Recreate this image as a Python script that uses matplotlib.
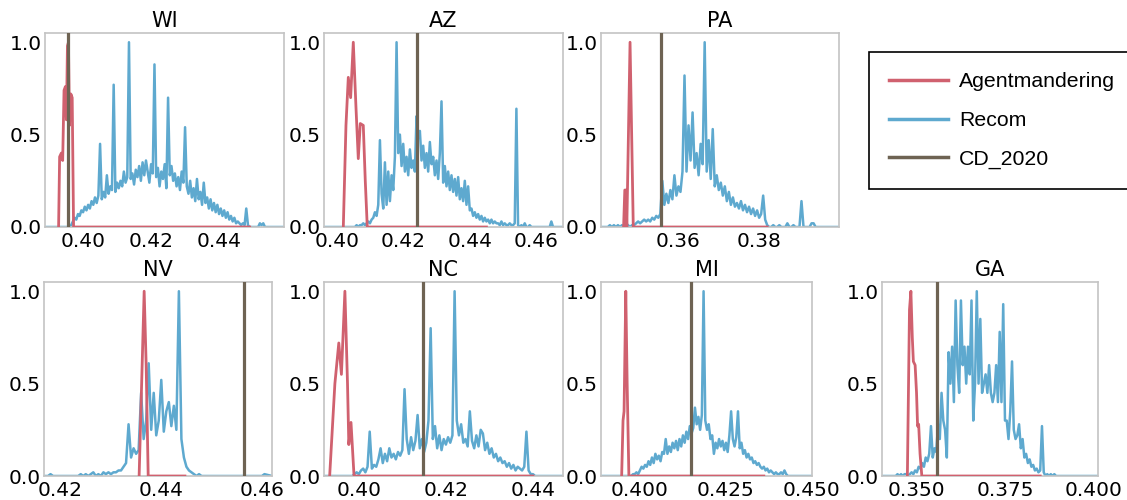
import numpy as np
import matplotlib
matplotlib.use("Agg")
import matplotlib.pyplot as plt
from matplotlib.lines import Line2D

# ---------------- data ----------------
states = ["WI", "AZ", "PA", "NV", "NC", "MI", "GA"]
cd_2020 = [0.3957, 0.4241, 0.3556, 0.4565, 0.4148, 0.4148, 0.3558]
x_lo = [0.3888, 0.3962, 0.3408, 0.4167, 0.3920, 0.3887, 0.3401]
x_hi = [0.4591, 0.4680, 0.3998, 0.4620, 0.4469, 0.4500, 0.4014]
recom_start = [0.3960, 0.4050, 0.3420, 0.4170, 0.3985, 0.3975, 0.3440]
bin_width = 0.0005

xtick_wi = ["0.40", "0.42", "0.44"]
xtick_az = ["0.40", "0.42", "0.44", "0.46"]
xtick_pa = ["0.36", "0.38"]
xtick_nv = ["0.42", "0.44", "0.46"]
xtick_nc = ["0.40", "0.42", "0.44"]
xtick_mi = ["0.400", "0.425", "0.450"]
xtick_ga = ["0.350", "0.375", "0.400"]
ytick_labels = ["0.0", "0.5", "1.0"]

recom_wi = [0.00, 0.01, 0.03, 0.05, 0.04, 0.07, 0.06, 0.09, 0.08, 0.11,
            0.09, 0.12, 0.10, 0.14, 0.12, 0.16, 0.13, 0.17, 0.45, 0.15,
            0.19, 0.16, 0.28, 0.18, 0.22, 0.20, 0.77, 0.19, 0.24, 0.21,
            0.25, 0.22, 0.30, 0.24, 0.27, 1.00, 0.26, 0.29, 0.23, 0.31,
            0.27, 0.33, 0.25, 0.35, 0.28, 0.36, 0.30, 0.24, 0.34, 0.29,
            0.88, 0.27, 0.32, 0.22, 0.30, 0.26, 0.34, 0.21, 0.70, 0.28,
            0.33, 0.25, 0.29, 0.22, 0.27, 0.20, 0.30, 0.24, 0.54, 0.22,
            0.18, 0.25, 0.16, 0.21, 0.14, 0.26, 0.15, 0.19, 0.12, 0.24,
            0.13, 0.16, 0.10, 0.15, 0.09, 0.13, 0.08, 0.12, 0.07, 0.10,
            0.06, 0.09, 0.05, 0.08, 0.04, 0.06, 0.03, 0.05, 0.02, 0.03,
            0.02, 0.01, 0.02, 0.01, 0.10, 0.01, 0.00, 0.00, 0.00, 0.00,
            0.00, 0.00, 0.02, 0.01, 0.02, 0.00, 0.00]
recom_az = [0.00, 0.00, 0.01, 0.00, 0.01, 0.01, 0.02, 0.01, 0.02, 0.03,
            0.02, 0.04, 0.05, 0.08, 0.06, 0.12, 0.47, 0.18, 0.10, 0.35,
            0.12, 0.30, 0.14, 0.28, 0.20, 0.38, 1.00, 0.40, 0.50, 0.33,
            0.45, 0.30, 0.38, 0.28, 0.42, 0.32, 0.36, 0.30, 0.60, 0.48,
            0.52, 0.36, 0.44, 0.32, 0.40, 0.30, 0.46, 0.34, 0.38, 0.28,
            0.36, 0.26, 0.40, 0.68, 0.24, 0.33, 0.22, 0.30, 0.20, 0.28,
            0.19, 0.26, 0.17, 0.27, 0.15, 0.21, 0.14, 0.25, 0.12, 0.22,
            0.09, 0.10, 0.06, 0.08, 0.05, 0.07, 0.04, 0.06, 0.03, 0.05,
            0.03, 0.04, 0.02, 0.04, 0.02, 0.03, 0.02, 0.02, 0.01, 0.03,
            0.01, 0.02, 0.01, 0.01, 0.02, 0.01, 0.01, 0.02, 0.64, 0.01,
            0.00, 0.01, 0.00, 0.02, 0.00, 0.00, 0.01, 0.00, 0.00, 0.00,
            0.00, 0.00, 0.00, 0.00, 0.00, 0.00, 0.00, 0.00, 0.00, 0.03,
            0.00]
recom_pa = [0.00, 0.00, 0.01, 0.00, 0.01, 0.00, 0.01, 0.00, 0.01, 0.00,
            0.02, 0.01, 0.00, 0.01, 0.01, 0.02, 0.03, 0.02, 0.03, 0.04,
            0.03, 0.04, 0.03, 0.05, 0.04, 0.06, 0.05, 0.07, 0.25, 0.12,
            0.18, 0.13, 0.20, 0.15, 0.28, 0.17, 0.22, 0.19, 0.30, 0.82,
            0.30, 0.55, 0.36, 0.62, 0.32, 0.40, 0.28, 0.45, 0.34, 1.00,
            0.30, 0.47, 0.26, 0.53, 0.22, 0.28, 0.20, 0.24, 0.17, 0.22,
            0.14, 0.19, 0.12, 0.16, 0.11, 0.13, 0.10, 0.14, 0.09, 0.12,
            0.08, 0.11, 0.07, 0.10, 0.06, 0.09, 0.05, 0.07, 0.17, 0.04,
            0.01, 0.00, 0.00, 0.01, 0.00, 0.00, 0.01, 0.00, 0.00, 0.00,
            0.02, 0.00, 0.00, 0.01, 0.00, 0.00, 0.00, 0.14, 0.00, 0.00,
            0.00, 0.00, 0.02, 0.02, 0.00]
recom_nv = [0.00, 0.00, 0.01, 0.00, 0.00, 0.00, 0.00, 0.00, 0.00, 0.00,
            0.00, 0.00, 0.00, 0.00, 0.01, 0.00, 0.01, 0.00, 0.01, 0.02,
            0.00, 0.01, 0.00, 0.02, 0.01, 0.02, 0.01, 0.02, 0.02, 0.03,
            0.03, 0.05, 0.07, 0.28, 0.10, 0.15, 0.12, 0.14, 0.45, 0.20,
            0.30, 0.61, 0.25, 0.45, 0.22, 0.30, 0.52, 0.24, 0.35, 0.40,
            0.27, 0.38, 0.25, 1.00, 0.20, 0.10, 0.05, 0.03, 0.02, 0.01,
            0.00, 0.01, 0.00, 0.00, 0.00, 0.00, 0.00, 0.00, 0.00, 0.00,
            0.00, 0.00, 0.00, 0.00, 0.00, 0.00, 0.00, 0.00, 0.00, 0.00,
            0.00, 0.00, 0.00, 0.00, 0.00, 0.00, 0.00, 0.01]
recom_nc = [0.00, 0.01, 0.02, 0.01, 0.03, 0.04, 0.02, 0.05, 0.24, 0.04,
            0.06, 0.05, 0.09, 0.15, 0.07, 0.12, 0.08, 0.15, 0.10, 0.12,
            0.09, 0.13, 0.11, 0.14, 0.47, 0.20, 0.12, 0.21, 0.14, 0.19,
            0.33, 0.15, 0.20, 0.13, 0.18, 0.30, 0.80, 0.20, 0.27, 0.15,
            0.22, 0.14, 0.20, 0.17, 0.21, 0.18, 0.22, 1.00, 0.30, 0.22,
            0.28, 0.18, 0.20, 0.16, 0.35, 0.19, 0.15, 0.22, 0.16, 0.25,
            0.23, 0.14, 0.18, 0.12, 0.15, 0.10, 0.12, 0.08, 0.10, 0.07,
            0.08, 0.05, 0.07, 0.04, 0.06, 0.03, 0.05, 0.04, 0.03, 0.05,
            0.24, 0.03, 0.01, 0.01, 0.00]
recom_mi = [0.00, 0.01, 0.01, 0.02, 0.01, 0.03, 0.05, 0.04, 0.06, 0.05,
            0.08, 0.06, 0.10, 0.07, 0.12, 0.09, 0.11, 0.08, 0.13, 0.12,
            0.20, 0.12, 0.16, 0.13, 0.18, 0.15, 0.19, 0.14, 0.20, 0.16,
            0.22, 0.18, 0.24, 0.20, 0.27, 0.23, 0.26, 0.37, 0.28, 0.32,
            0.25, 0.33, 1.00, 0.30, 0.25, 0.28, 0.20, 0.22, 0.12, 0.18,
            0.15, 0.20, 0.16, 0.19, 0.14, 0.18, 0.13, 0.22, 0.35, 0.20,
            0.16, 0.21, 0.35, 0.15, 0.18, 0.12, 0.14, 0.10, 0.12, 0.09,
            0.10, 0.07, 0.08, 0.06, 0.07, 0.05, 0.04, 0.05, 0.03, 0.04,
            0.02, 0.03, 0.02, 0.01, 0.02, 0.01, 0.01, 0.02, 0.01, 0.03,
            0.01, 0.00, 0.00]
recom_ga = [0.00, 0.01, 0.00, 0.01, 0.00, 0.01, 0.01, 0.00, 0.01, 0.02,
            0.01, 0.03, 0.02, 0.05, 0.04, 0.07, 0.05, 0.10, 0.08, 0.12,
            0.27, 0.10, 0.15, 0.13, 0.28, 0.20, 0.45, 0.30, 0.25, 0.10,
            0.67, 0.50, 0.70, 0.40, 0.95, 0.60, 0.45, 0.95, 0.60, 0.70,
            0.50, 0.70, 0.55, 0.95, 0.30, 0.50, 1.00, 0.50, 0.85, 0.45,
            0.50, 0.55, 0.45, 0.60, 0.45, 0.40, 0.45, 0.60, 0.40, 0.78,
            0.40, 0.93, 0.30, 0.30, 0.20, 0.35, 0.62, 0.25, 0.20, 0.22,
            0.28, 0.15, 0.20, 0.10, 0.12, 0.07, 0.09, 0.05, 0.06, 0.03,
            0.04, 0.02, 0.03, 0.27, 0.02, 0.00, 0.01, 0.00, 0.01, 0.00,
            0.01, 0.00, 0.00]

agent_x_wi = [0.3928, 0.3931, 0.3936, 0.3940, 0.3944, 0.3948, 0.3951, 0.3954, 0.3957, 0.3960, 0.3964, 0.3968, 0.3972, 0.4490]
agent_y_wi = [0.00, 0.38, 0.40, 0.36, 0.74, 0.76, 0.58, 0.98, 1.00, 0.55, 0.72, 0.70, 0.00, 0.00]
agent_x_az = [0.4020, 0.4028, 0.4035, 0.4042, 0.4050, 0.4058, 0.4065, 0.4071, 0.4080, 0.4086, 0.4092, 0.4450]
agent_y_az = [0.00, 0.55, 0.81, 0.70, 1.00, 0.65, 0.37, 0.56, 0.55, 0.25, 0.00, 0.00]
agent_x_pa = [0.3464, 0.3467, 0.3470, 0.3472, 0.3476, 0.3480, 0.3484, 0.3488, 0.3820]
agent_y_pa = [0.00, 0.20, 0.20, 0.00, 0.50, 1.00, 0.50, 0.00, 0.00]
agent_x_nv = [0.4356, 0.4362, 0.4366, 0.4370, 0.4374, 0.4447]
agent_y_nv = [0.00, 0.60, 1.00, 0.60, 0.00, 0.00]
agent_x_nc = [0.3933, 0.3945, 0.3954, 0.3960, 0.3968, 0.3974, 0.3977, 0.3982, 0.3989, 0.4400]
agent_y_nc = [0.00, 0.50, 0.72, 0.55, 1.00, 0.50, 0.17, 0.29, 0.00, 0.00]
agent_x_mi = [0.3947, 0.3951, 0.3954, 0.3959, 0.3963, 0.3968, 0.4360]
agent_y_mi = [0.00, 0.30, 0.35, 1.00, 0.50, 0.00, 0.00]
agent_x_ga = [0.3473, 0.3479, 0.3483, 0.3487, 0.3490, 0.3495, 0.3499, 0.3502, 0.3505, 0.3509, 0.3514, 0.3850]
agent_y_ga = [0.00, 0.90, 1.00, 0.75, 0.62, 0.60, 0.45, 0.27, 0.28, 0.12, 0.00, 0.00]

recom_all = [recom_wi, recom_az, recom_pa, recom_nv, recom_nc, recom_mi, recom_ga]
agent_x_all = [agent_x_wi, agent_x_az, agent_x_pa, agent_x_nv, agent_x_nc, agent_x_mi, agent_x_ga]
agent_y_all = [agent_y_wi, agent_y_az, agent_y_pa, agent_y_nv, agent_y_nc, agent_y_mi, agent_y_ga]
xticks_all = [xtick_wi, xtick_az, xtick_pa, xtick_nv, xtick_nc, xtick_mi, xtick_ga]

# ---------------- style ----------------
RED = "#d0616f"
BLUE = "#5ea9cf"
BROWN = "#6e6353"
W, H = 1127, 500

# axes boxes in pixels: left, top, right, bottom
boxes = [(45, 33, 284, 227), (324, 33, 563, 227), (601, 33, 839, 227),
         (44, 282, 272, 476), (324, 282, 563, 476), (601, 282, 812, 476),
         (882, 282, 1098, 476)]

fig = plt.figure(figsize=(W / 100, H / 100), dpi=100)

for i, st in enumerate(states):
    l, t, r, b = boxes[i]
    ax = fig.add_axes([l / W, 1 - b / H, (r - l) / W, (b - t) / H])
    vals = recom_all[i]
    xs = recom_start[i] + bin_width * np.arange(len(vals))
    bx = np.concatenate([[x_lo[i]], xs, [x_hi[i]]])
    by = np.concatenate([[0.0], vals, [0.0]])
    ax.plot(bx, by, color=BLUE, lw=1.8, zorder=2)
    ax.plot(agent_x_all[i], agent_y_all[i], color=RED, lw=2.0, zorder=3)
    ax.axvline(cd_2020[i], color=BROWN, lw=2.3, zorder=4)
    ax.set_xlim(x_lo[i], x_hi[i])
    ax.set_ylim(0, 1.05)
    ax.set_xticks([float(s) for s in xticks_all[i]])
    ax.set_xticklabels(xticks_all[i])
    ax.set_yticks([float(s) for s in ytick_labels])
    ax.set_yticklabels(ytick_labels)
    ax.tick_params(axis="both", length=0, labelsize=14.5)
    ax.tick_params(axis="x", pad=3.5)
    ax.tick_params(axis="y", pad=2.5)
    for sp in ax.spines.values():
        sp.set_color("#c4c4c4")
        sp.set_linewidth(1.2)
    ax.set_title(st, fontsize=15, pad=4)

handles = [Line2D([], [], color=RED, lw=2.5),
           Line2D([], [], color=BLUE, lw=2.5),
           Line2D([], [], color=BROWN, lw=2.5)]
labels = ["Agentmandering", "Recom", "CD_2020"]
leg = fig.legend(handles, labels, loc="upper left",
                 bbox_to_anchor=(869 / W, 1 - 52 / H), bbox_transform=fig.transFigure,
                 borderaxespad=0, frameon=True, fancybox=False, framealpha=1,
                 edgecolor="black", borderpad=0.95, handlelength=2.75,
                 handletextpad=0.55, labelspacing=0.93,
                 prop={"family": "Liberation Sans", "size": 15.3})
leg.get_frame().set_linewidth(1.2)

fig.savefig("out.png", dpi=100)
